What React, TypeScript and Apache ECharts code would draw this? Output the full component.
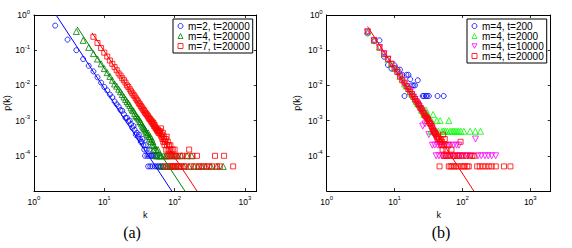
import React, { useEffect, useRef } from "react";
import * as echarts from "echarts";

// ---------- Panel (a) ----------
const kA_m2 = [2,3,4,5,6,7,8,9,10,11,12,13,14,15,16,17,18,19,20,21,22,23,24,25,26,27,28,29,30,31,32,33,34,35,36,37,38,39,40,41,42,43,44,45,46,47,48,50,52,53,55,56,58,61,64,68];
const pA_m2 = [0.50,0.20,0.10,0.056,0.036,0.025,0.017,0.012,0.0090,0.0072,0.0055,0.0046,0.0035,0.0029,0.0025,0.0020,0.0019,0.0015,0.0012,0.0012,0.00095,0.0010,0.00080,0.00062,0.00070,0.00055,0.00040,0.00045,0.00035,0.00040,0.00030,0.00025,0.00025,0.00030,0.00020,0.00015,0.00010,0.00020,0.00015,0.00010,0.00005,0.00010,0.00015,0.00005,0.00010,0.00010,0.00005,0.00010,0.00005,0.00010,0.00005,0.00010,0.00005,0.00005,0.00005,0.00005];

const kA_m4 = [4,5,6,7,8,9,10,11,12,13,14,15,16,17,18,19,20,21,22,23,24,25,26,27,28,29,30,31,32,33,34,35,36,37,38,39,40,41,42,43,44,45,46,47,48,49,50,51,52,54,55,56,58,60,62,63,65,67,70,73,75,78,80,84,88,92,96,100,105,110,118,125,135,150,160,175,190,215,240,280,330,400,490];
const pA_m4 = [0.34,0.19,0.12,0.080,0.056,0.041,0.030,0.023,0.018,0.014,0.011,0.0095,0.0078,0.0066,0.0055,0.0047,0.0040,0.0035,0.0031,0.0027,0.0023,0.0020,0.0019,0.0016,0.0014,0.0013,0.0012,0.0011,0.00095,0.00090,0.00080,0.00070,0.00065,0.00060,0.00055,0.00050,0.00045,0.00040,0.00045,0.00035,0.00030,0.00035,0.00025,0.00030,0.00020,0.00025,0.00015,0.00020,0.00015,0.00010,0.00015,0.00010,0.00015,0.00010,0.00005,0.00010,0.00010,0.00005,0.00010,0.00005,0.00010,0.00010,0.00005,0.00010,0.00005,0.00010,0.00005,0.00010,0.00005,0.00010,0.00005,0.00010,0.00005,0.00010,0.00005,0.00010,0.00005,0.00005,0.00005,0.00005,0.00005,0.00005,0.00005];

const kA_m7 = [7,8,9,10,11,12,13,14,15,16,17,18,19,20,21,22,23,24,25,26,27,28,29,30,31,32,33,34,35,36,37,38,39,40,41,42,43,44,45,46,47,48,49,50,51,52,53,54,55,56,57,58,59,60,61,62,63,64,65,66,67,68,69,70,71,72,73,74,75,76,77,78,79,80,81,82,83,84,85,86,87,88,90,91,92,94,95,97,99,100,102,104,106,110,116,120,125,130,136,142,150,161,170,180,190,208,220,240,260,285,310,340,375,400,440,505,680];
const pA_m7 = [0.24,0.16,0.115,0.085,0.066,0.051,0.041,0.033,0.027,0.022,0.019,0.016,0.014,0.012,0.010,0.0090,0.0078,0.0068,0.0060,0.0054,0.0049,0.0043,0.0039,0.0035,0.0031,0.0029,0.0026,0.0024,0.0022,0.0020,0.0019,0.0017,0.0016,0.0015,0.0014,0.0013,0.0012,0.0011,0.0011,0.0010,0.00090,0.00095,0.00080,0.00085,0.00070,0.00075,0.00065,0.00060,0.00060,0.00055,0.00050,0.00055,0.00045,0.00050,0.00045,0.00050,0.00040,0.00060,0.00035,0.00040,0.00030,0.00045,0.00025,0.00035,0.00030,0.00020,0.00025,0.00005,0.00030,0.00015,0.00035,0.00020,0.00010,0.00025,0.00005,0.00015,0.00020,0.00010,0.00015,0.00005,0.00020,0.00010,0.00015,0.00005,0.00010,0.00015,0.00005,0.00010,0.00005,0.00015,0.00010,0.00005,0.00010,0.00005,0.00005,0.00010,0.00005,0.00010,0.00005,0.00005,0.00010,0.00015,0.00005,0.00010,0.00005,0.00010,0.00005,0.00005,0.00005,0.00005,0.00005,0.00005,0.00010,0.00005,0.00005,0.00010,0.00005];

// fitted power laws (two end points)
const fitA_m2_k = [2.06, 91];
const fitA_m2_p = [1, 1e-5];
const fitA_m4_k = [4.1, 140];
const fitA_m4_p = [0.46, 1e-5];
const fitA_m7_k = [6.7, 208];
const fitA_m7_p = [0.31, 1e-5];

// ---------- Panel (b) ----------
const kB_t200 = [4,5,6,7,8,9,10,11,12,13,14,15,16,17,18,19,20,22,26,27,29,30,32,43,53];
const pB_t200 = [0.30,0.18,0.19,0.065,0.038,0.030,0.037,0.028,0.028,0.020,0.005,0.020,0.020,0.015,0.010,0.010,0.010,0.014,0.005,0.005,0.005,0.005,0.005,0.005,0.005];

const kB_t2000 = [4,5,6,7,8,9,10,11,12,13,14,15,16,17,18,19,20,21,22,23,24,25,26,27,28,29,30,31,32,33,34,35,36,37,38,40,42,44,47,50,53,56,60,63,66,70,74,78,83,88,95,105,130,155,185];
const pB_t2000 = [0.33,0.19,0.12,0.079,0.055,0.040,0.031,0.027,0.018,0.015,0.011,0.0095,0.0080,0.0065,0.0055,0.0050,0.0040,0.0035,0.0030,0.0030,0.0025,0.0020,0.0020,0.0015,0.0015,0.0020,0.0010,0.0015,0.0010,0.0010,0.0005,0.0010,0.0005,0.0015,0.0005,0.0005,0.0010,0.0005,0.0010,0.0005,0.0005,0.0005,0.0005,0.0010,0.0005,0.0005,0.0005,0.0005,0.0005,0.0005,0.0005,0.0005,0.0005,0.0005,0.0005];

const kB_t10000 = [4,5,6,7,8,9,10,11,12,13,14,15,16,17,18,19,20,21,22,23,24,25,26,27,28,29,30,31,32,33,34,35,36,37,38,39,40,41,42,43,44,45,46,48,50,52,54,56,58,61,64,67,70,74,78,82,86,89,92,100,110,120,135,156,170,190,215,240,270,309];
const pB_t10000 = [0.33,0.19,0.12,0.080,0.056,0.040,0.030,0.023,0.018,0.014,0.011,0.0093,0.0078,0.0065,0.0055,0.0047,0.0040,0.0034,0.0030,0.0026,0.0022,0.0019,0.0007,0.0016,0.0008,0.0012,0.0011,0.0010,0.0004,0.0008,0.0007,0.0006,0.0002,0.0005,0.0004,0.0002,0.0004,0.0001,0.0003,0.0002,0.0003,0.0001,0.0002,0.0002,0.0001,0.0002,0.0001,0.0002,0.0001,0.0002,0.0001,0.0002,0.0001,0.0002,0.0001,0.0002,0.0001,0.0002,0.0001,0.0001,0.0001,0.0001,0.0001,0.0003,0.0001,0.0001,0.0001,0.0001,0.0001,0.0001];

const kB_t20000 = [4,5,6,7,8,9,10,11,12,13,14,15,16,17,18,19,20,21,22,23,24,25,26,27,28,29,30,31,32,33,34,35,36,37,38,39,40,41,42,43,44,45,46,47,48,49,50,51,52,53,54,55,57,58,60,62,63,65,67,69,71,73,76,78,81,84,87,90,94,97,100,104,108,113,118,124,130,140,150,165,180,200,220,245,270,310,410,510];
const pB_t20000 = [0.34,0.19,0.12,0.079,0.056,0.041,0.030,0.024,0.018,0.014,0.012,0.0095,0.0079,0.0066,0.0056,0.0047,0.0041,0.0035,0.0030,0.0027,0.0023,0.0021,0.0018,0.0016,0.0014,0.0013,0.0012,0.0011,0.00095,0.00085,0.00080,0.00070,0.00065,0.00055,0.00050,0.00045,0.00045,0.00040,0.00035,0.00030,0.00035,0.00030,0.00005,0.00025,0.00030,0.00020,0.00025,0.00015,0.00040,0.00010,0.00020,0.00030,0.00010,0.00015,0.00010,0.00020,0.00005,0.00010,0.00005,0.00015,0.00005,0.00010,0.00005,0.00010,0.00005,0.00010,0.00005,0.00010,0.00025,0.00005,0.00010,0.00005,0.00005,0.00010,0.00005,0.00005,0.00010,0.00010,0.00010,0.00005,0.00005,0.00005,0.00005,0.00005,0.00005,0.00005,0.00005,0.00005];

const fitB_k = [4, 147];
const fitB_p = [0.47, 1e-5];

// ---------- labels ----------
const legendA = ["m=2, t=20000", "m=4, t=20000", "m=7, t=20000"];
const legendB = ["m=4, t=200", "m=4, t=2000", "m=4, t=10000", "m=4, t=20000"];

const FONT = "'Liberation Sans', Arial, sans-serif";

const zip = (k: number[], p: number[]) => k.map((v, i) => [v, p[i]]);

const fmt = (v: number) => `{b|10}{e|${Math.round(Math.log10(v))}}`;
const rich = {
  b: { fontSize: 8.5, fontFamily: FONT, color: "#000", lineHeight: 13 },
  e: { fontSize: 6, fontFamily: FONT, color: "#000", lineHeight: 6, verticalAlign: "top" },
};

const tickStyle = { show: true, inside: true, length: 3, lineStyle: { color: "#000", width: 0.8 } };
const lineStyle = { show: true, onZero: false, lineStyle: { color: "#000", width: 1 } };

function makeX(grid: number, max: number) {
  const base: any = {
    type: "log", logBase: 10, gridIndex: grid, min: 1, max, interval: 1,
    splitLine: { show: false }, axisLine: lineStyle, axisTick: tickStyle,
  };
  return [
    {
      ...base, position: "bottom",
      axisLabel: { formatter: fmt, rich, margin: 4, showMaxLabel: false, showMinLabel: true },
      name: "k", nameLocation: "middle", nameGap: 13,
      nameTextStyle: { fontSize: 9, fontFamily: FONT, color: "#000" },
    },
    { ...base, position: "top", axisLabel: { show: false } },
  ];
}
function makeY(grid: number, gap: number) {
  const base: any = {
    type: "log", logBase: 10, gridIndex: grid, min: 1e-5, max: 1, interval: 1,
    splitLine: { show: false }, axisLine: lineStyle, axisTick: tickStyle,
  };
  return [
    {
      ...base, position: "left",
      axisLabel: { formatter: fmt, rich, margin: 4, showMinLabel: false, showMaxLabel: true },
      name: "p(k)", nameLocation: "middle", nameGap: gap, nameRotate: 90,
      nameTextStyle: { fontSize: 9, fontFamily: FONT, color: "#000" },
    },
    { ...base, position: "right", axisLabel: { show: false } },
  ];
}

function scatter(name: string, data: number[][], xi: number, yi: number, symbol: string, color: string, size: number, rotate = 0) {
  return {
    type: "scatter", name, data, xAxisIndex: xi, yAxisIndex: yi,
    symbol, symbolSize: size, symbolRotate: rotate, clip: true, silent: true,
    itemStyle: { color: "rgba(0,0,0,0)", borderColor: color, borderWidth: 1 },
  };
}
function fit(data: number[][], xi: number, yi: number, color: string) {
  return {
    type: "line", data, xAxisIndex: xi, yAxisIndex: yi, symbol: "none", showSymbol: false,
    clip: true, silent: true, lineStyle: { color, width: 1 }, z: 3,
  };
}

const BLUE = "#0000ff";
const DGREEN = "#008000";
const RED = "#ff0000";
const LGREEN = "#00ff00";
const MAGENTA = "#ff00ff";

const DOWN_TRI = "path://M0,0 L10,0 L5,9 Z";

function legend(names: string[], left: number, colors: string[], icons: string[]) {
  return {
    data: names.map((n, i) => ({
      name: n + "|" + left,
      icon: icons[i],
      itemStyle: { color: "rgba(0,0,0,0)", borderColor: colors[i], borderWidth: 1 },
    })),
    formatter: (n: string) => n.split("|")[0],
    orient: "vertical", left, top: 19,
    padding: [2, 3, 2, 4.5], itemGap: 0, itemWidth: 5, itemHeight: 5,
    borderColor: "#000", borderWidth: 1, backgroundColor: "#fff",
    selectedMode: false,
    textStyle: { fontSize: 10, fontFamily: FONT, color: "#000", lineHeight: 9.5 },
  };
}

export default function App() {
  const ref = useRef<HTMLDivElement>(null);
  useEffect(() => {
    if (!ref.current) return;
    const chart = echarts.init(ref.current, null, { renderer: "svg" });
    const sA = (i: number) => legendA[i] + "|173";
    const sB = (i: number) => legendB[i] + "|467";
    chart.setOption({
      animation: false,
      backgroundColor: "#fff",
      grid: [
        { left: 34, top: 15, width: 222.7, height: 176 },
        { left: 326.7, top: 15, width: 224, height: 176 },
      ],
      xAxis: [...makeX(0, 1470), ...makeX(1, 2000)],
      yAxis: [...makeY(0, 21), ...makeY(1, 25)],
      legend: [
        legend(legendA, 173, [BLUE, DGREEN, RED], ["circle", "triangle", "rect"]),
        legend(legendB, 467, [BLUE, LGREEN, MAGENTA, RED], ["circle", "triangle", DOWN_TRI, "rect"]),
      ],
      series: [
        scatter(sA(0), zip(kA_m2, pA_m2), 0, 0, "circle", BLUE, 5),
        scatter(sA(1), zip(kA_m4, pA_m4), 0, 0, "triangle", DGREEN, 6),
        scatter(sA(2), zip(kA_m7, pA_m7), 0, 0, "rect", RED, 5),
        fit(zip(fitA_m2_k, fitA_m2_p), 0, 0, BLUE),
        fit(zip(fitA_m4_k, fitA_m4_p), 0, 0, DGREEN),
        fit(zip(fitA_m7_k, fitA_m7_p), 0, 0, RED),
        scatter(sB(0), zip(kB_t200, pB_t200), 2, 2, "circle", BLUE, 5),
        scatter(sB(1), zip(kB_t2000, pB_t2000), 2, 2, "triangle", LGREEN, 6),
        scatter(sB(2), zip(kB_t10000, pB_t10000), 2, 2, "triangle", MAGENTA, 6, 180),
        scatter(sB(3), zip(kB_t20000, pB_t20000), 2, 2, "rect", RED, 5),
        fit(zip(fitB_k, fitB_p), 2, 2, RED),
      ],
      graphic: [
        { type: "text", x: 132, y: 232, style: { text: "(a)", font: "16px 'Liberation Serif', serif", fill: "#000", align: "center", verticalAlign: "middle" } },
        { type: "text", x: 441, y: 232, style: { text: "(b)", font: "16px 'Liberation Serif', serif", fill: "#000", align: "center", verticalAlign: "middle" } },
      ],
    });
    return () => chart.dispose();
  }, []);
  return <div ref={ref} style={{ position: "absolute", left: 0, top: 0, width: 572, height: 248 }} />;
}
